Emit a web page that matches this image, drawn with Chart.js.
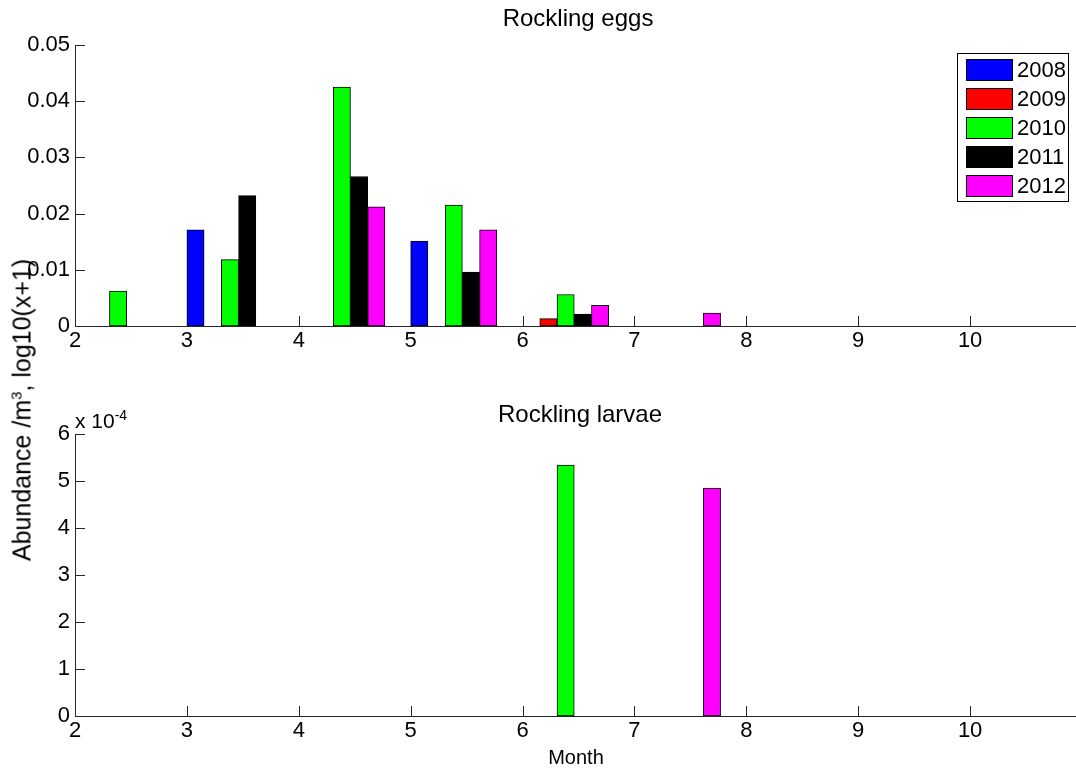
<!DOCTYPE html>
<html>
<head>
<meta charset="utf-8">
<script src="https://cdn.jsdelivr.net/npm/chart.js@4.4.1/dist/chart.umd.min.js"></script>
<style>
html,body{margin:0;padding:0}
body{width:1076px;height:769px;overflow:hidden;background:#fff;position:relative;font-family:"Liberation Sans",Arial,sans-serif;color:#000}
.plot{position:absolute;left:0;width:1090px}
#topPlot{top:0;height:360px}
#botPlot{top:380px;height:370px}
.txt{position:absolute;white-space:nowrap;line-height:1}
#t1{left:578px;top:6px;font-size:24px;transform:translateX(-50%)}
#t2{left:580px;top:402px;font-size:24px;transform:translateX(-50%)}
#xlab{left:576px;top:747px;font-size:20px;transform:translateX(-50%)}
#ylab{left:22px;top:410px;font-size:25px;transform:translate(-50%,-50%) rotate(-90deg)}
#ylab sup{font-size:15px;line-height:0}
#expo{left:75px;top:410px;font-size:21px}
#expo sup{font-size:14px;line-height:0}
</style>
</head>
<body>
<div class="plot" id="topPlot"><canvas id="eggs"></canvas></div>
<div class="plot" id="botPlot"><canvas id="larvae"></canvas></div>
<div class="txt" id="t1">Rockling eggs</div>
<div class="txt" id="t2">Rockling larvae</div>
<div class="txt" id="xlab">Month</div>
<div class="txt" id="ylab">Abundance /m<sup>3</sup>, log10(x+1)</div>
<div class="txt" id="expo">x 10<sup>-4</sup></div>
<script>
const months = [2, 3, 4, 5, 6, 7, 8, 9, 10];
const years = ['2008', '2009', '2010', '2011', '2012'];
const colors = ['#0000ff', '#ff0000', '#00ff00', '#000000', '#ff00ff'];

const eggs2008 = [null, 0.0171, null, 0.0151, null, null, null, null, null];
const eggs2009 = [null, null, null, null, 0.0013, null, null, null, null];
const eggs2010 = [0.0062, 0.0118, 0.0425, 0.0215, 0.0056, null, null, null, null];
const eggs2011 = [null, 0.0232, 0.0266, 0.0096, 0.0021, null, null, null, null];
const eggs2012 = [null, null, 0.0212, 0.0171, 0.0037, 0.0023, null, null, null];

const larvae2008 = [null, null, null, null, null, null, null, null, null];
const larvae2009 = [null, null, null, null, null, null, null, null, null];
const larvae2010 = [null, null, null, null, 0.000534, null, null, null, null];
const larvae2011 = [null, null, null, null, null, null, null, null, null];
const larvae2012 = [null, null, null, null, null, 0.000485, null, null, null];

const monthTicks = [2, 3, 4, 5, 6, 7, 8, 9, 10];
const eggTicks = [0, 0.01, 0.02, 0.03, 0.04, 0.05];
const larvaeTicks = [0, 1, 2, 3, 4, 5, 6]; // x 10^-4

// grouped bars like matlab: 5 bars side by side, group shifted right of the month
const groupShift = 0.385;
const barStep = 0.154;
const axisColor = '#262626';
const fontFam = '"Liberation Sans", Arial, sans-serif';

function points(values, i){
return months
.map((m, k) => ({x: m + groupShift + (i - 2) * barStep, y: values[k]}))
.filter(p => p.y !== null);
}

function makeSets(series){
return series.map((vals, i) => ({
label: years[i],
data: points(vals, i),
backgroundColor: colors[i],
borderColor: '#000',
borderWidth: 1,
borderSkipped: false,
grouped: false
}));
}

const innerTicks = {
id: 'innerTicks',
beforeDatasetsDraw(chart){
const {ctx, chartArea: a, scales: {x, y}} = chart;
ctx.save();
ctx.strokeStyle = axisColor;
ctx.lineWidth = 1;
ctx.beginPath();
x.ticks.forEach(t => {
const p = Math.round(x.getPixelForValue(t.value)) + 0.5;
ctx.moveTo(p, a.bottom);
ctx.lineTo(p, a.bottom - 10);
});
y.ticks.forEach(t => {
const p = Math.round(y.getPixelForValue(t.value)) + 0.5;
ctx.moveTo(a.left, p);
ctx.lineTo(a.left + 10, p);
});
ctx.stroke();
ctx.restore();
}
};

const boxLegend = {
id: 'boxLegend',
afterDraw(chart){
const {ctx, chartArea: a} = chart;
const sets = chart.data.datasets;
const w = 111, h = 148;
const left = a.right - 14 - w;
const top = a.top + 8;
ctx.save();
ctx.fillStyle = '#fff';
ctx.fillRect(left, top, w, h);
ctx.strokeStyle = '#000';
ctx.lineWidth = 1;
ctx.strokeRect(left + 0.5, top + 0.5, w, h);
ctx.font = '22px ' + fontFam;
ctx.textBaseline = 'middle';
sets.forEach((d, i) => {
const sy = top + 6 + i * 29;
ctx.fillStyle = d.backgroundColor;
ctx.fillRect(left + 9, sy, 46, 21);
ctx.strokeStyle = '#000';
ctx.strokeRect(left + 9.5, sy + 0.5, 46, 21);
ctx.fillStyle = '#000';
ctx.fillText(d.label, left + 60, sy + 12);
});
ctx.restore();
}
};

function options(padTop, yMax, yTicks, yLabel){
return {
animation: false,
responsive: true,
maintainAspectRatio: false,
layout: {padding: {top: padTop, right: 8, left: 0, bottom: 0}},
plugins: {legend: {display: false}, tooltip: {enabled: false}},
scales: {
x: {
type: 'linear',
min: 2,
max: 11,
offset: false,
grid: {display: false, drawTicks: false, offset: false},
border: {display: true, color: axisColor, width: 1},
ticks: {color: '#000', font: {size: 22, family: fontFam}, padding: 2, maxRotation: 0, autoSkip: false},
afterBuildTicks: s => { s.ticks = monthTicks.map(v => ({value: v})); },
afterFit: s => { s.height = 34; }
},
y: {
min: 0,
max: yMax,
grid: {display: false, drawTicks: false},
border: {display: true, color: axisColor, width: 1},
ticks: {color: '#000', font: {size: 22, family: fontFam}, padding: 5, callback: yLabel},
afterBuildTicks: s => { s.ticks = yTicks.map(v => ({value: v})); },
afterFit: s => { s.width = 75; }
}
}
};
}

function fitBars(chart){
const x = chart.scales.x;
const w = x.getPixelForValue(2 + barStep) - x.getPixelForValue(2);
chart.data.datasets.forEach(d => { d.barThickness = w; });
chart.update('none');
}

const eggChart = new Chart(document.getElementById('eggs'), {
type: 'bar',
data: {datasets: makeSets([eggs2008, eggs2009, eggs2010, eggs2011, eggs2012])},
options: options(45, 0.05, eggTicks, v => String(Math.round(v * 100) / 100)),
plugins: [innerTicks, boxLegend]
});

const larvaeChart = new Chart(document.getElementById('larvae'), {
type: 'bar',
data: {datasets: makeSets([larvae2008, larvae2009, larvae2010, larvae2011, larvae2012])},
options: options(54, 0.0006, larvaeTicks.map(v => v * 1e-4), v => String(Math.round(v / 1e-4))),
plugins: [innerTicks]
});

fitBars(eggChart);
fitBars(larvaeChart);
</script>
</body>
</html>
